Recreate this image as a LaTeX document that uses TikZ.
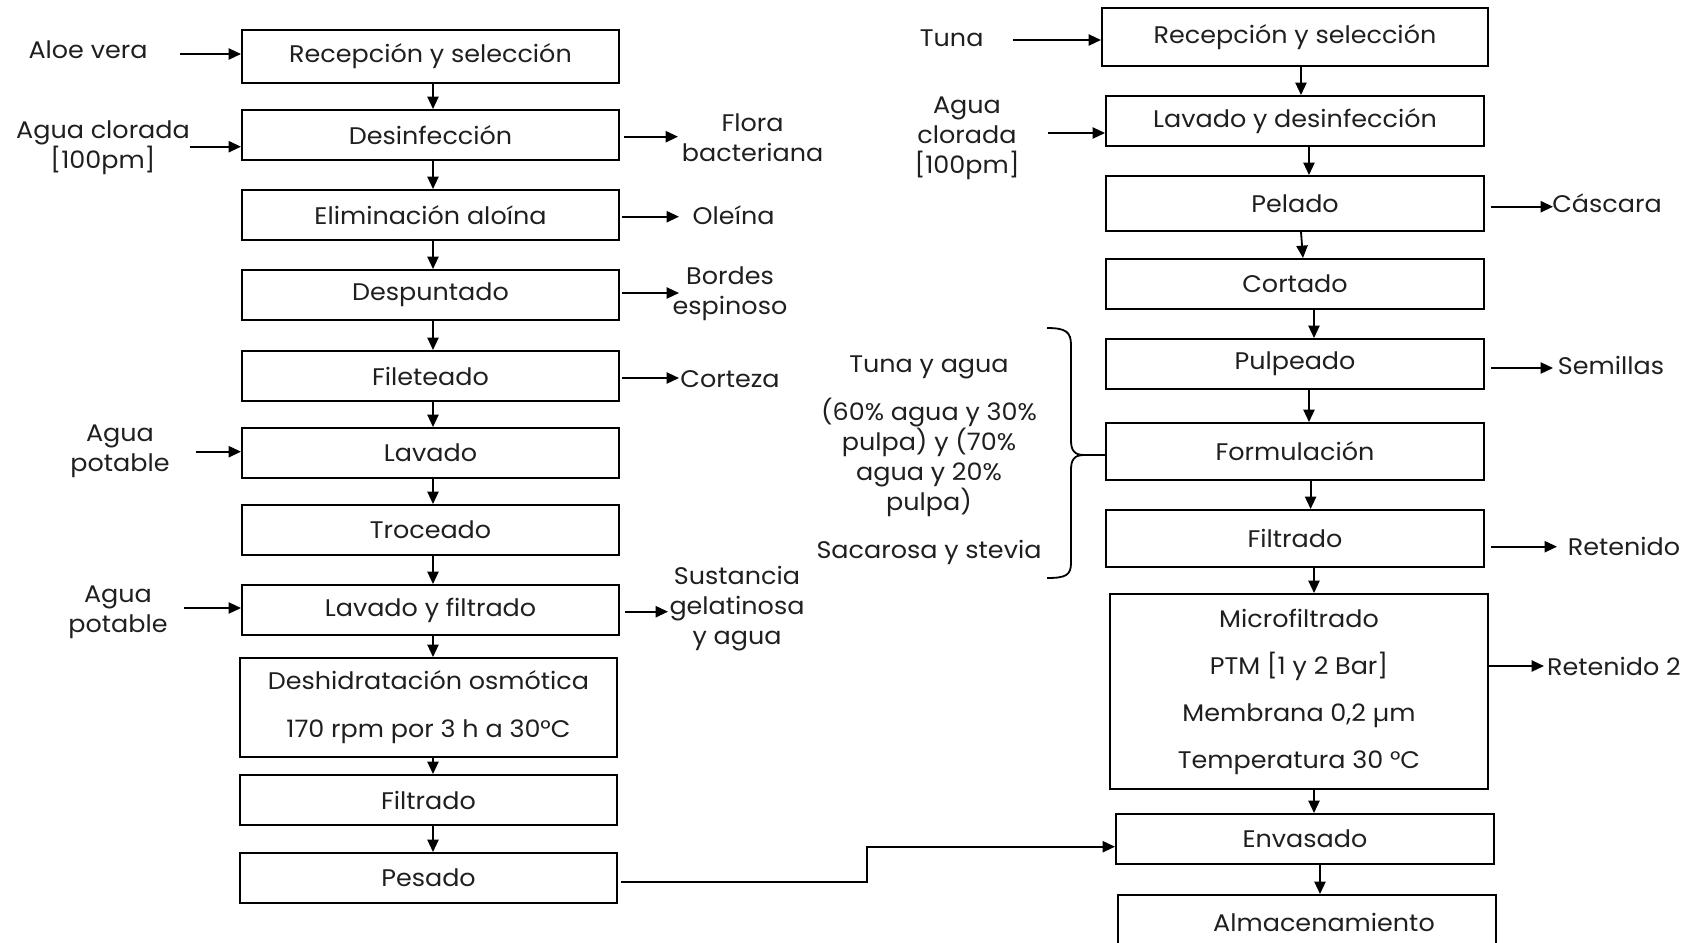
\documentclass[tikz,border=0pt]{standalone}
\usepackage{fontspec}
\setmainfont{Poppins}[FakeStretch=1.06]
\usetikzlibrary{arrows.meta}
\tikzset{
  box/.style={draw, line width=1pt, inner sep=0pt, align=center, text=black!88, font=\fontsize{12}{14}\selectfont},
  lbl/.style={align=center, inner sep=0pt, text=black!88, font=\fontsize{12}{15}\selectfont},
  arr/.style={line width=0.9pt, -{Triangle[length=6.2pt,width=5.6pt]}},
  ln/.style={line width=0.9pt},
}
\begin{document}
\begin{tikzpicture}[x=0.5pt,y=-0.5pt]
\useasboundingbox (0,0) rectangle (1688,943);
% ---------- left column ----------
\node[box, minimum width=188.5pt, minimum height=26.5pt] (recL) at (430.5,56.5) {Recepción y selección};
\node[box, minimum width=188.5pt, minimum height=25pt] (desL) at (430.5,135) {Desinfección};
\node[box, minimum width=188.5pt, minimum height=25pt] (eliL) at (430.5,215) {Eliminación aloína};
\node[box, minimum width=188.5pt, minimum height=25pt] (despL) at (430.5,295) {Despuntado};
\node[box, minimum width=188.5pt, minimum height=25pt] (filL) at (430.5,376) {Fileteado};
\node[box, minimum width=188.5pt, minimum height=25pt] (lavL) at (430.5,453) {Lavado};
\node[box, minimum width=188.5pt, minimum height=25pt] (troL) at (430.5,530) {Troceado};
\node[box, minimum width=188.5pt, minimum height=25pt] (lyfL) at (430.5,610) {Lavado y filtrado};
\node[box, minimum width=188.5pt, minimum height=49.5pt, font=\fontsize{12}{24}\selectfont] (desh) at (428.5,707.5) {Deshidratación osmótica\\170 rpm por 3 h a 30°C};
\node[box, minimum width=188.5pt, minimum height=25pt] (filtL) at (428.5,800) {Filtrado};
\node[box, minimum width=188.5pt, minimum height=25pt] (pes) at (428.5,878) {Pesado};
% ---------- right column ----------
\node[box, minimum width=193pt, minimum height=29pt] (recR) at (1295,37) {Recepción y selección};
\node[box, minimum width=189pt, minimum height=25pt] (lydR) at (1295,121) {Lavado y desinfección};
\node[box, minimum width=189pt, minimum height=27.5pt] (pel) at (1295,203.5) {Pelado};
\node[box, minimum width=189pt, minimum height=25pt] (cor) at (1295,284) {Cortado};
\node[box, minimum width=189pt, minimum height=25pt] (pul) at (1295,364) {Pulpeado};
\node[box, minimum width=189pt, minimum height=28.5pt] (form) at (1295,451.5) {Formulación};
\node[box, minimum width=189pt, minimum height=28.5pt] (filtR) at (1295,538.5) {Filtrado};
\node[box, minimum width=189pt, minimum height=97.5pt, font=\fontsize{12}{23.5}\selectfont] (micro) at (1299,691.5) {Microfiltrado\\PTM [1 y 2 Bar]\\Membrana 0,2 µm\\Temperatura 30 °C};
\node[box, minimum width=189pt, minimum height=25pt] (env) at (1305,839) {Envasado};
\node[box, anchor=north, minimum width=189pt, minimum height=40pt] (alm) at (1307,894) {\raisebox{13pt}{\hspace{17pt}Almacenamiento}};
% ---------- labels ----------
\node[lbl] (aloe) at (88,50) {Aloe vera};
\node[lbl] (aclL) at (103,147.5) {Agua clorada\\{}[100pm]};
\node[lbl] (flora) at (752.6,138) {Flora\\bacteriana};
\node[lbl] (oleina) at (733.6,215) {Oleína};
\node[lbl] (bordes) at (730,294) {Bordes\\espinoso};
\node[lbl] (corteza) at (730,379) {Corteza};
\node[lbl] (ap1) at (120,451) {Agua\\potable};
\node[lbl] (ap2) at (118,612) {Agua\\potable};
\node[lbl] (sust) at (737,609) {Sustancia\\gelatinosa\\y agua};
\node[lbl] (tuna) at (951.7,38) {Tuna};
\node[lbl] (aclR) at (967,138) {Agua\\clorada\\{}[100pm]};
\node[lbl] (cascara) at (1607,203) {Cáscara};
\node[lbl] (semillas) at (1611,365) {Semillas};
\node[lbl] (ret) at (1624,546.7) {Retenido};
\node[lbl] (ret2) at (1614,666) {Retenido 2};
\node[lbl] (mix) at (929,460) {Tuna y agua\\[9pt](60\% agua y 30\%\\pulpa) y (70\%\\agua y 20\%\\pulpa)\\[9pt]Sacarosa y stevia};
% ---------- brace ----------
\draw[ln] (1047,328) .. controls (1066,328) and (1071,332) .. (1071,345) -- (1071,440)
  .. controls (1071,450) and (1074,455) .. (1084,455)
  .. controls (1074,455) and (1071,460) .. (1071,470) -- (1071,563)
  .. controls (1071,575) and (1066,578) .. (1047,578);
\coordinate (bt) at (1084,455);
\draw[ln] (bt) -- (bt -| form.west);
% ---------- vertical flow ----------
\draw[arr] ([xshift=1.25pt]recL.south) -- ([xshift=1.25pt]desL.north);
\draw[arr] ([xshift=1.25pt]desL.south) -- ([xshift=1.25pt]eliL.north);
\draw[arr] ([xshift=1.25pt]eliL.south) -- ([xshift=1.25pt]despL.north);
\draw[arr] ([xshift=1.25pt]despL.south) -- ([xshift=1.25pt]filL.north);
\draw[arr] ([xshift=1.25pt]filL.south) -- ([xshift=1.25pt]lavL.north);
\draw[arr] ([xshift=1.25pt]lavL.south) -- ([xshift=1.25pt]troL.north);
\draw[arr] ([xshift=1.25pt]troL.south) -- ([xshift=1.25pt]lyfL.north);
\draw[arr] ([xshift=1.25pt]lyfL.south) -- ([xshift=2.25pt]desh.north);
\draw[arr] ([xshift=2.25pt]desh.south) -- ([xshift=2.25pt]filtL.north);
\draw[arr] ([xshift=2.25pt]filtL.south) -- ([xshift=2.25pt]pes.north);
\draw[arr] ([xshift=3pt]recR.south) -- ([xshift=3pt]lydR.north);
\draw[arr] ([xshift=7pt]lydR.south) -- ([xshift=7pt]pel.north);
\draw[arr] ([xshift=3pt]pel.south) -- ([xshift=4pt]cor.north);
\draw[arr] ([xshift=9.5pt]cor.south) -- ([xshift=9.5pt]pul.north);
\draw[arr] ([xshift=7pt]pul.south) -- ([xshift=7pt]form.north);
\draw[arr] ([xshift=7.8pt]form.south) -- ([xshift=7.8pt]filtR.north);
\draw[arr] ([xshift=9.5pt]filtR.south) -- ([xshift=7.5pt]micro.north);
\draw[arr] ([xshift=7.5pt]micro.south) -- ([xshift=4.5pt]env.north);
\draw[arr] ([xshift=7.5pt]env.south) -- ([xshift=6.5pt]alm.north);
% ---------- inputs ----------
\coordinate (i1) at (180,54);
\draw[arr] (i1) -- (i1 -| recL.west);
\coordinate (i2) at (189.5,146.7);
\draw[arr] (i2) -- (i2 -| desL.west);
\coordinate (i3) at (196,451.7);
\draw[arr] (i3) -- (i3 -| lavL.west);
\coordinate (i4) at (184,608);
\draw[arr] (i4) -- (i4 -| lyfL.west);
\coordinate (i5) at (1013,40);
\draw[arr] (i5) -- (i5 -| recR.west);
\coordinate (i6) at (1048,133);
\draw[arr] (i6) -- (i6 -| lydR.west);
% ---------- outputs ----------
\coordinate (o1) at (678,136.7);
\draw[arr] ([xshift=2pt]o1 -| desL.east) -- (o1);
\coordinate (o2) at (679,216.7);
\draw[arr] ([xshift=1pt]o2 -| eliL.east) -- (o2);
\coordinate (o3) at (679,293);
\draw[arr] ([xshift=1pt]o3 -| despL.east) -- (o3);
\coordinate (o4) at (679,378);
\draw[arr] ([xshift=1pt]o4 -| filL.east) -- (o4);
\coordinate (o5) at (668,611.7);
\draw[arr] ([xshift=2.5pt]o5 -| lyfL.east) -- (o5);
\coordinate (o6) at (1553,206.7);
\draw[arr] ([xshift=3pt]o6 -| pel.east) -- (o6);
\coordinate (o7) at (1553,368);
\draw[arr] ([xshift=3pt]o7 -| pul.east) -- (o7);
\coordinate (o8) at (1557,546.7);
\draw[arr] ([xshift=3pt]o8 -| filtR.east) -- (o8);
\coordinate (o9) at (1544,666);
\draw[arr] (o9 -| micro.east) -- (o9);
% ---------- Pesado to Envasado ----------
\coordinate (k) at (867,846.7);
\draw[arr] ([xshift=1.5pt,yshift=-1.8pt]pes.east) -| (k) -- (k -| env.west);
\end{tikzpicture}
\end{document}
